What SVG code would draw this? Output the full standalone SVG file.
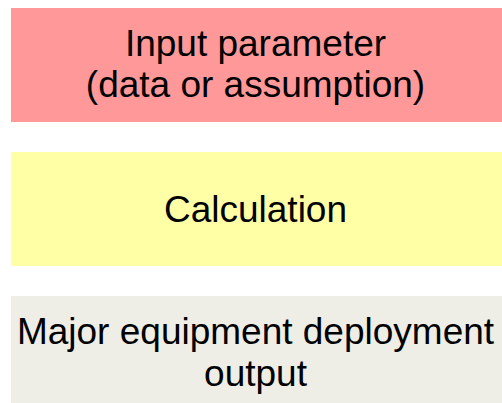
<svg xmlns="http://www.w3.org/2000/svg" width="502" height="403" viewBox="0 0 502 403">
<style>
text{font-family:"Liberation Sans",Arial,sans-serif;font-size:37px;fill:#000;text-anchor:middle}
</style>
<rect width="502" height="403" fill="#fff"/>
<g id="input">
<rect x="11" y="8" width="491" height="114" fill="#ff9999"/>
<text x="255.5" y="56">Input parameter</text>
<text x="255.5" y="97">(data or assumption)</text>
</g>
<g id="calculation">
<rect x="11" y="152" width="491" height="114" fill="#ffffa6"/>
<text x="255.5" y="222">Calculation</text>
</g>
<g id="output">
<rect x="11" y="296" width="491" height="114" fill="#eeeee6"/>
<text x="255.5" y="344">Major equipment deployment</text>
<text x="255.5" y="386">output</text>
</g>
<g id="connectors"></g>
</svg>
